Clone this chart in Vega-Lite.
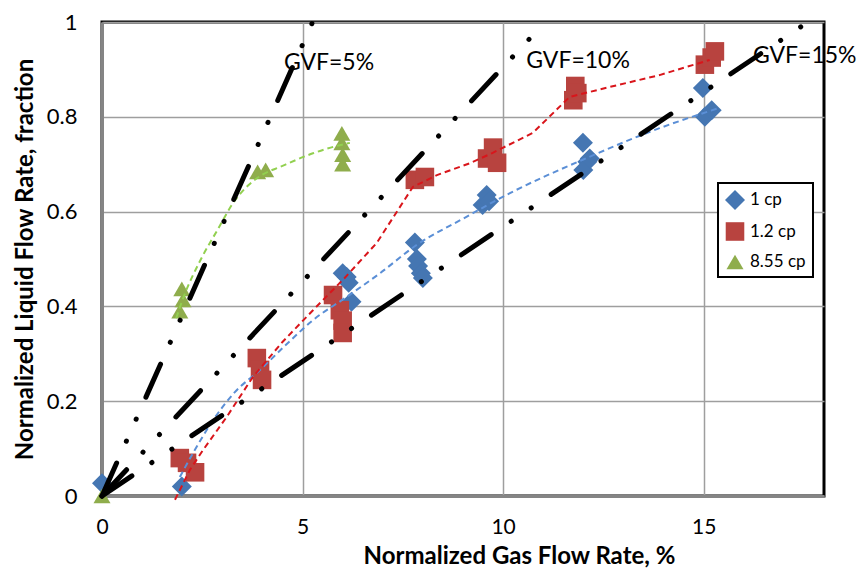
{
  "$schema": "https://vega.github.io/schema/vega-lite/v6.json",
  "width": 722,
  "height": 474,
  "autosize": {"type": "none"},
  "padding": {"left": 102, "top": 22, "right": 34, "bottom": 73},
  "background": "white",
  "config": {
    "font": "Lato",
    "view": {"stroke": "black", "strokeWidth": 3},
    "axis": {
      "gridColor": "#9e9e9e", "gridWidth": 1.5,
      "domainColor": "#858585", "domainWidth": 3,
      "ticks": false, "tickSize": 0,
      "labelFont": "Lato", "labelFontSize": 22, "labelColor": "black", "labelFlush": false,
      "titleFont": "Lato", "titleFontSize": 24, "titleFontWeight": "bold", "titleColor": "black"
    },
    "legend": {
      "orient": "none", "legendX": 616, "legendY": 161,
      "strokeColor": "black", "strokeWidth": 2, "fillColor": "white",
      "padding": 7, "rowPadding": 12, "labelFontSize": 17, "labelFont": "Lato",
      "labelColor": "black", "symbolSize": 170, "labelOffset": 5, "symbolStrokeWidth": 0
    }
  },
  "datasets": {
    "points": [
      {"fluid": "1 cp", "gas": 0, "liquid": 0.027},
      {"fluid": "1 cp", "gas": 1.99, "liquid": 0.02},
      {"fluid": "1 cp", "gas": 6.0, "liquid": 0.47},
      {"fluid": "1 cp", "gas": 6.1, "liquid": 0.462},
      {"fluid": "1 cp", "gas": 6.15, "liquid": 0.45},
      {"fluid": "1 cp", "gas": 6.22, "liquid": 0.41},
      {"fluid": "1 cp", "gas": 7.8, "liquid": 0.535},
      {"fluid": "1 cp", "gas": 7.85, "liquid": 0.5},
      {"fluid": "1 cp", "gas": 7.88, "liquid": 0.485},
      {"fluid": "1 cp", "gas": 7.95, "liquid": 0.47},
      {"fluid": "1 cp", "gas": 8.0, "liquid": 0.46},
      {"fluid": "1 cp", "gas": 9.49, "liquid": 0.614},
      {"fluid": "1 cp", "gas": 9.59, "liquid": 0.635},
      {"fluid": "1 cp", "gas": 9.65, "liquid": 0.622},
      {"fluid": "1 cp", "gas": 11.99, "liquid": 0.745},
      {"fluid": "1 cp", "gas": 12.1, "liquid": 0.705},
      {"fluid": "1 cp", "gas": 12.0, "liquid": 0.688},
      {"fluid": "1 cp", "gas": 12.16, "liquid": 0.712},
      {"fluid": "1 cp", "gas": 14.98, "liquid": 0.861},
      {"fluid": "1 cp", "gas": 15.03, "liquid": 0.8},
      {"fluid": "1 cp", "gas": 15.2, "liquid": 0.814},
      {"fluid": "1.2 cp", "gas": 1.94, "liquid": 0.08},
      {"fluid": "1.2 cp", "gas": 2.12, "liquid": 0.07},
      {"fluid": "1.2 cp", "gas": 2.32, "liquid": 0.05},
      {"fluid": "1.2 cp", "gas": 3.86, "liquid": 0.291},
      {"fluid": "1.2 cp", "gas": 3.94, "liquid": 0.266},
      {"fluid": "1.2 cp", "gas": 3.99, "liquid": 0.245},
      {"fluid": "1.2 cp", "gas": 5.76, "liquid": 0.424},
      {"fluid": "1.2 cp", "gas": 5.93, "liquid": 0.392},
      {"fluid": "1.2 cp", "gas": 6.0, "liquid": 0.37},
      {"fluid": "1.2 cp", "gas": 6.0, "liquid": 0.344},
      {"fluid": "1.2 cp", "gas": 7.8, "liquid": 0.667},
      {"fluid": "1.2 cp", "gas": 8.05, "liquid": 0.673},
      {"fluid": "1.2 cp", "gas": 9.6, "liquid": 0.712},
      {"fluid": "1.2 cp", "gas": 9.75, "liquid": 0.735},
      {"fluid": "1.2 cp", "gas": 9.85, "liquid": 0.703},
      {"fluid": "1.2 cp", "gas": 11.75, "liquid": 0.835},
      {"fluid": "1.2 cp", "gas": 11.8, "liquid": 0.865},
      {"fluid": "1.2 cp", "gas": 11.85, "liquid": 0.85},
      {"fluid": "1.2 cp", "gas": 15.03, "liquid": 0.91},
      {"fluid": "1.2 cp", "gas": 15.2, "liquid": 0.925},
      {"fluid": "1.2 cp", "gas": 15.28, "liquid": 0.938},
      {"fluid": "8.55 cp", "gas": 0, "liquid": 0.0},
      {"fluid": "8.55 cp", "gas": 1.94, "liquid": 0.39},
      {"fluid": "8.55 cp", "gas": 2.02, "liquid": 0.414},
      {"fluid": "8.55 cp", "gas": 1.99, "liquid": 0.437},
      {"fluid": "8.55 cp", "gas": 3.88, "liquid": 0.684},
      {"fluid": "8.55 cp", "gas": 4.08, "liquid": 0.688},
      {"fluid": "8.55 cp", "gas": 5.98, "liquid": 0.765},
      {"fluid": "8.55 cp", "gas": 5.98, "liquid": 0.745},
      {"fluid": "8.55 cp", "gas": 6.0, "liquid": 0.72},
      {"fluid": "8.55 cp", "gas": 6.0, "liquid": 0.7}
    ],
    "trendBlue": [
      {"gas": 1.94, "liquid": 0.04}, {"gas": 2.3, "liquid": 0.095}, {"gas": 2.77, "liquid": 0.16},
      {"gas": 3.3, "liquid": 0.218}, {"gas": 3.94, "liquid": 0.266}, {"gas": 4.6, "liquid": 0.32},
      {"gas": 5.26, "liquid": 0.371}, {"gas": 6.1, "liquid": 0.42}, {"gas": 6.93, "liquid": 0.47},
      {"gas": 7.85, "liquid": 0.53}, {"gas": 9.0, "liquid": 0.585}, {"gas": 10.17, "liquid": 0.639},
      {"gas": 12.0, "liquid": 0.71}, {"gas": 13.9, "liquid": 0.776}, {"gas": 15.4, "liquid": 0.819}
    ],
    "trendRed": [
      {"gas": 1.82, "liquid": -0.008}, {"gas": 2.19, "liquid": 0.055}, {"gas": 2.52, "liquid": 0.097},
      {"gas": 3.11, "liquid": 0.167}, {"gas": 3.76, "liquid": 0.251}, {"gas": 4.5, "liquid": 0.325},
      {"gas": 5.26, "liquid": 0.392}, {"gas": 6.05, "liquid": 0.46}, {"gas": 6.85, "liquid": 0.534},
      {"gas": 7.75, "liquid": 0.652}, {"gas": 8.35, "liquid": 0.677}, {"gas": 9.17, "liquid": 0.702},
      {"gas": 9.74, "liquid": 0.724}, {"gas": 10.74, "liquid": 0.766}, {"gas": 11.66, "liquid": 0.842},
      {"gas": 12.66, "liquid": 0.863}, {"gas": 13.9, "liquid": 0.888}, {"gas": 15.15, "liquid": 0.92}
    ],
    "trendGreen": [
      {"gas": 1.85, "liquid": 0.375}, {"gas": 2.0, "liquid": 0.412}, {"gas": 2.5, "liquid": 0.505},
      {"gas": 2.87, "liquid": 0.56}, {"gas": 3.3, "liquid": 0.622}, {"gas": 3.64, "liquid": 0.655},
      {"gas": 4.0, "liquid": 0.678}, {"gas": 4.43, "liquid": 0.694}, {"gas": 5.26, "liquid": 0.723},
      {"gas": 5.7, "liquid": 0.735}, {"gas": 6.18, "liquid": 0.745}
    ],
    "gvf": [
      {"gvf": "5%", "gas": 0, "liquid": 0}, {"gvf": "5%", "gas": 5.25, "liquid": 1},
      {"gvf": "10%", "gas": 0, "liquid": 0}, {"gvf": "10%", "gas": 11.05, "liquid": 1},
      {"gvf": "15%", "gas": 0, "liquid": 0}, {"gvf": "15%", "gas": 17.6, "liquid": 1}
    ],
    "labels": [
      {"label": "GVF=5%", "gas": 5.66, "liquid": 0.899},
      {"label": "GVF=10%", "gas": 11.87, "liquid": 0.903},
      {"label": "GVF=15%", "gas": 17.52, "liquid": 0.913}
    ]
  },
  "encoding": {
    "x": {
      "field": "gas", "type": "quantitative",
      "scale": {"domain": [0, 18], "nice": false, "zero": false},
      "axis": {
        "title": "Normalized Gas Flow Rate, %",
        "values": [0, 5, 10, 15], "labelPadding": 37, "labelFontSize": 21, "labelBaseline": "alphabetic",
        "titleX": 417, "titleY": 67, "titleBaseline": "alphabetic", "titleAlign": "center"
      }
    },
    "y": {
      "field": "liquid", "type": "quantitative",
      "scale": {"domain": [0, 1], "nice": false, "zero": false},
      "axis": {
        "title": "Normalized Liquid Flow Rate, fraction",
        "values": [0, 0.2, 0.4, 0.6, 0.8, 1], "format": ".1~f", "labelPadding": 25,
        "titleX": -70, "titleY": 237, "titleAngle": -90, "titleBaseline": "alphabetic", "titleAlign": "center"
      }
    }
  },
  "layer": [
    {
      "data": {"name": "points"},
      "mark": {"type": "point", "filled": true, "opacity": 1},
      "encoding": {
        "color": {
          "field": "fluid", "type": "nominal",
          "scale": {"domain": ["1 cp", "1.2 cp", "8.55 cp"], "range": ["#4576b2", "#b8433f", "#8fad4c"]},
          "legend": {"title": null}
        },
        "shape": {
          "field": "fluid", "type": "nominal",
          "scale": {"domain": ["1 cp", "1.2 cp", "8.55 cp"], "range": ["diamond", "square", "triangle-up"]},
          "legend": {"title": null}
        },
        "size": {
          "field": "fluid", "type": "nominal",
          "scale": {"domain": ["1 cp", "1.2 cp", "8.55 cp"], "range": [400, 290, 400]},
          "legend": null
        }
      }
    },
    {
      "data": {"name": "trendBlue"},
      "mark": {"type": "line", "color": "#5b8fd6", "strokeWidth": 2, "strokeDash": [6, 4], "interpolate": "monotone"},
      "encoding": {}
    },
    {
      "data": {"name": "trendRed"},
      "mark": {"type": "line", "color": "#d9151b", "strokeWidth": 2, "strokeDash": [6, 4]},
      "encoding": {}
    },
    {
      "data": {"name": "trendGreen"},
      "mark": {"type": "line", "color": "#92d050", "strokeWidth": 2, "strokeDash": [6, 4], "interpolate": "monotone"},
      "encoding": {}
    },
    {
      "data": {"name": "gvf"},
      "mark": {"type": "line", "color": "black", "strokeWidth": 5, "strokeCap": "round", "strokeDash": [36, 24, 0.1, 24, 0.1, 24]},
      "encoding": {"detail": {"field": "gvf", "type": "nominal"}}
    },
    {
      "data": {"name": "labels"},
      "mark": {"type": "text", "fontSize": 23, "font": "Lato", "baseline": "alphabetic", "align": "center", "color": "black"},
      "encoding": {"text": {"field": "label", "type": "nominal"}}
    }
  ]
}
